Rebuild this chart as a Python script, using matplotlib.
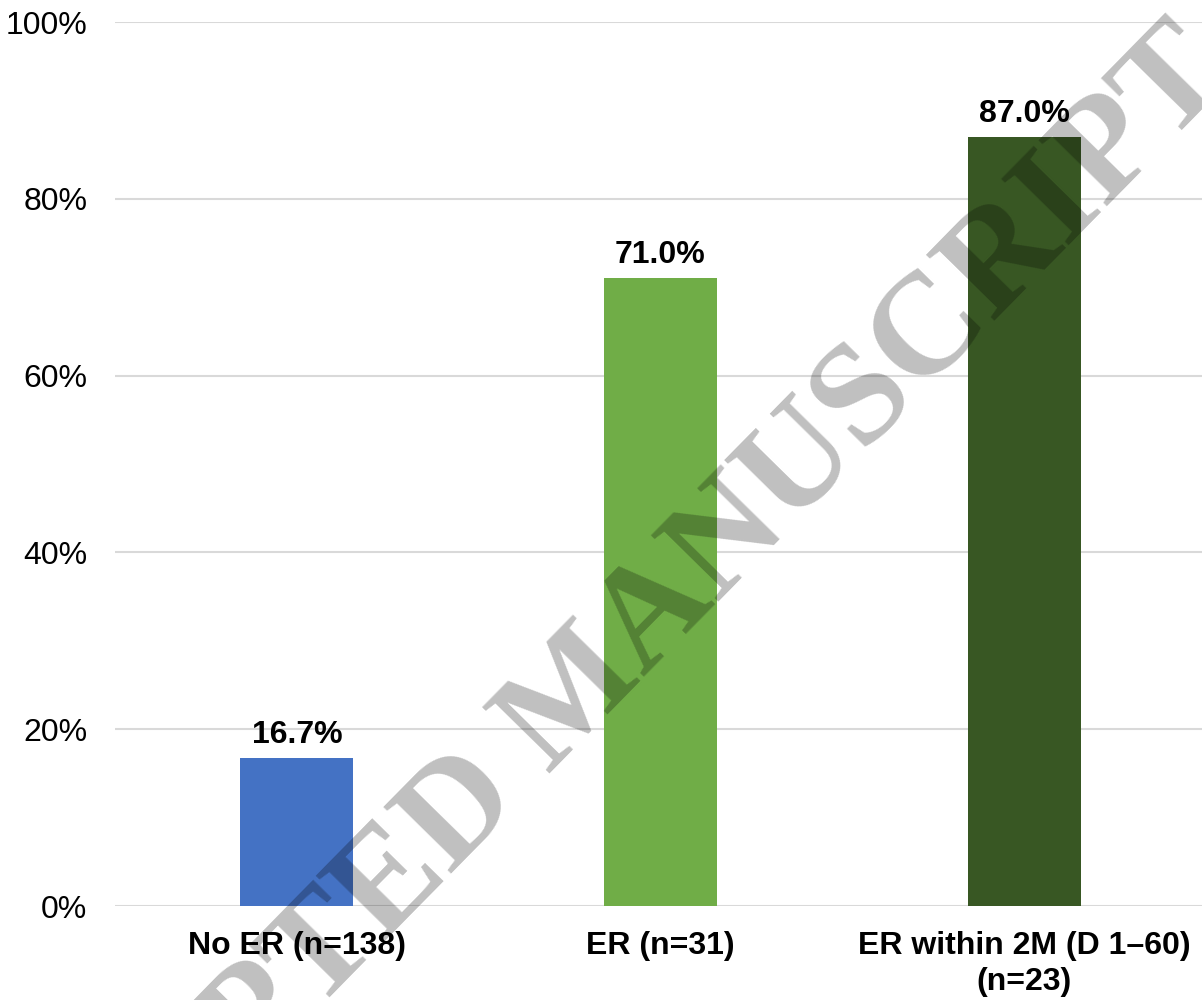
import matplotlib.pyplot as plt
from matplotlib.ticker import PercentFormatter

plt.rcParams['font.family'] = ['Liberation Sans', 'DejaVu Sans']

categories = ['No ER (n=138)', 'ER (n=31)', 'ER within 2M (D 1\u201360)\n(n=23)']
rates = [16.7, 71.0, 87.0]
bar_colors = ['#4472C4', '#70AD47', '#385723']
yticks = [0, 20, 40, 60, 80, 100]

fig = plt.figure(figsize=(12.02, 10), dpi=100)
ax = fig.add_axes([115 / 1202, 0.094, 1091 / 1202, 0.884])

x = range(len(categories))
bars = ax.bar(x, rates, width=0.31, color=bar_colors, zorder=2)

for rect, val in zip(bars, rates):
    ax.annotate(f'{val:.1f}%', (rect.get_x() + rect.get_width() / 2, val),
                xytext=(0, 6), textcoords='offset points',
                ha='center', va='bottom', fontsize=23, fontweight='bold')

ax.set_xlim(-0.5, len(categories) - 0.5)
ax.set_ylim(0, 100)
ax.set_yticks(yticks)
ax.yaxis.set_major_formatter(PercentFormatter(decimals=0))
ax.set_xticks(list(x))
ax.set_xticklabels(categories, fontsize=23, fontweight='bold', linespacing=1.25)
ax.tick_params(axis='y', labelsize=23, length=0, pad=20)
ax.tick_params(axis='x', length=0, pad=18)
ax.grid(axis='y', color='#d9d9d9', linewidth=1.5, zorder=0)
for s in ax.spines.values():
    s.set_visible(False)

# diagonal watermark, translucent so the bars show through
fig.text(600 / 1202, 1 - 722 / 1000, 'ACCEPTED MANUSCRIPT', fontsize=104,
         family='Liberation Serif', fontweight='bold', color='black', alpha=0.25,
         rotation=45.5, rotation_mode='anchor', ha='center', va='baseline',
         zorder=10)

fig.savefig('out.png', dpi=100)
